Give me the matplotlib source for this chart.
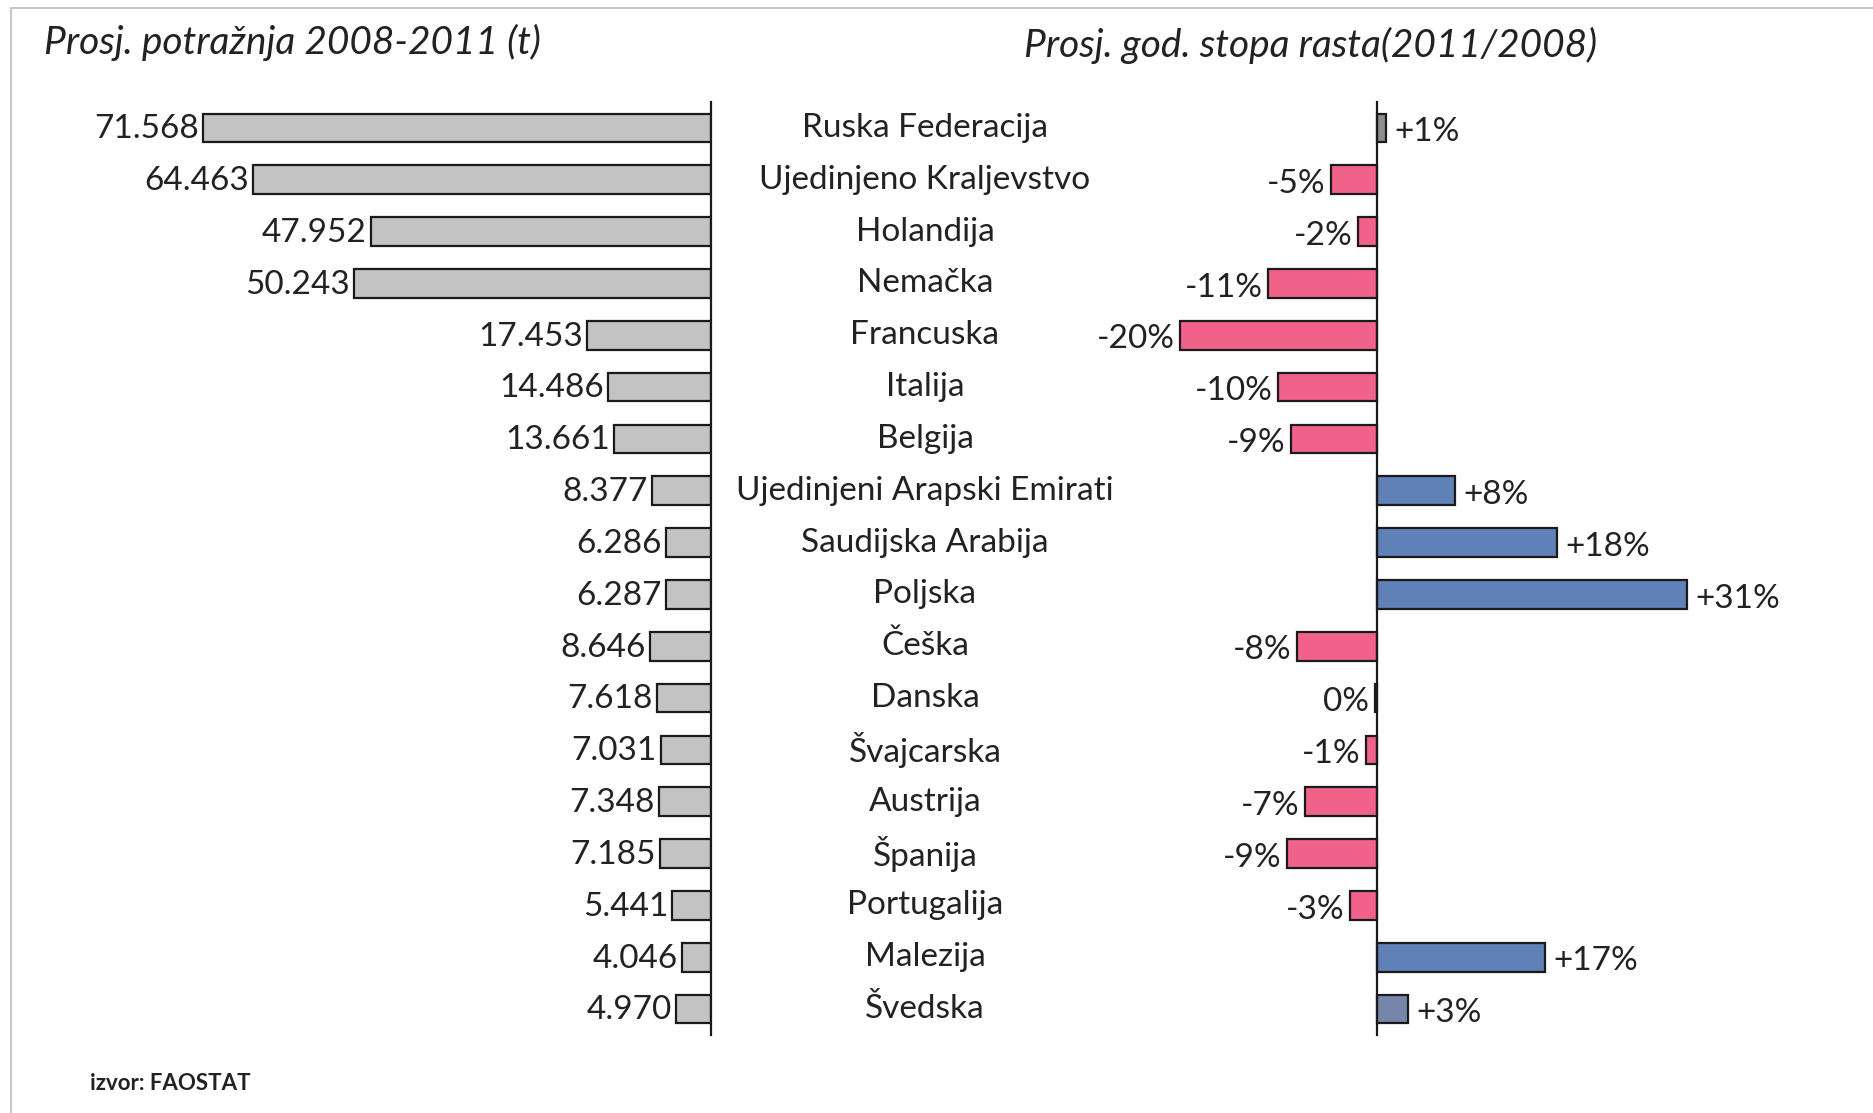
import matplotlib
matplotlib.use("Agg")
import matplotlib.pyplot as plt
import matplotlib.transforms as mtransforms
from matplotlib.lines import Line2D

countries = ["Ruska Federacija", "Ujedinjeno Kraljevstvo", "Holandija", "Nemačka",
             "Francuska", "Italija", "Belgija", "Ujedinjeni Arapski Emirati",
             "Saudijska Arabija", "Poljska", "Češka", "Danska", "Švajcarska",
             "Austrija", "Španija", "Portugalija", "Malezija", "Švedska"]
demand = [71.568, 64.463, 47.952, 50.243, 17.453, 14.486, 13.661, 8.377, 6.286,
          6.287, 8.646, 7.618, 7.031, 7.348, 7.185, 5.441, 4.046, 4.970]
demand_labels = ["71.568", "64.463", "47.952", "50.243", "17.453", "14.486", "13.661",
                 "8.377", "6.286", "6.287", "8.646", "7.618", "7.031", "7.348",
                 "7.185", "5.441", "4.046", "4.970"]
growth = [0.9, -4.6, -1.9, -10.9, -19.7, -9.9, -8.6, 7.8, 18.0, 31.0, -8.0, -0.2,
          -1.1, -7.2, -9.0, -2.7, 16.8, 3.1]
growth_labels = ["+1%", "-5%", "-2%", "-11%", "-20%", "-10%", "-9%", "+8%", "+18%",
                 "+31%", "-8%", "0%", "-1%", "-7%", "-9%", "-3%", "+17%", "+3%"]

title_left = "Prosj. potražnja 2008-2011 (t)"
title_right = "Prosj. god. stopa rasta(2011/2008)"
source = "izvor: FAOSTAT"

FONT = ["Lato", "DejaVu Sans"]
plt.rcParams['font.family'] = FONT

W, H = 1874, 1113
fig = plt.figure(figsize=(W / 100, H / 100), dpi=100)
fig.patch.set_facecolor("white")

def fx(px):
    return px / W

def fy(px):
    return 1 - px / H

top_px, bot_px = 102, 1035
n = len(countries)
ypos = list(range(n))
FS = 24

# Left axes
axL_left, axL_right = 0, 711
axL = fig.add_axes([fx(axL_left), fy(bot_px), fx(axL_right - axL_left), (bot_px - top_px) / H])
axL.barh(ypos, demand, height=0.55, color="#c3c3c3", edgecolor="#1a1a1a", linewidth=1.6)
axL.set_xlim((axL_right - axL_left) / 7.1, 0)
axL.set_ylim(n - 0.5, -0.5)
for s in ["top", "bottom", "left"]:
    axL.spines[s].set_visible(False)
axL.spines["right"].set_linewidth(1.6)
axL.spines["right"].set_color("#1a1a1a")
axL.set_xticks([])
axL.set_yticks([])
axL.patch.set_alpha(0)
for y, v, lab in zip(ypos, demand, demand_labels):
    axL.annotate(lab, (v, y), xytext=(-3, -1), textcoords="offset points",
                 ha="right", va="center", fontsize=FS, color="#222222")

# Right axes
zero_px = 1377
pxper = 10.0
axR_l, axR_r = 1100, 1760
axR = fig.add_axes([fx(axR_l), fy(bot_px), fx(axR_r - axR_l), (bot_px - top_px) / H])
colors = []
for i, g in enumerate(growth):
    if i == 0:
        colors.append("#8e8e8e")
    elif i == n - 1:
        colors.append("#7686aa")
    elif g < 0:
        colors.append("#f0628a")
    else:
        colors.append("#6080b8")
axR.barh(ypos, growth, height=0.55, color=colors, edgecolor="#1a1a1a", linewidth=1.6)
axR.set_xlim(-(zero_px - axR_l) / pxper, (axR_r - zero_px) / pxper)
axR.set_ylim(n - 0.5, -0.5)
for s in ["top", "bottom", "right"]:
    axR.spines[s].set_visible(False)
axR.spines["left"].set_position(("data", 0))
axR.spines["left"].set_linewidth(1.6)
axR.spines["left"].set_color("#1a1a1a")
axR.set_xticks([])
axR.set_yticks([])
axR.patch.set_alpha(0)
for y, v, lab in zip(ypos, growth, growth_labels):
    if lab.startswith("+"):
        axR.annotate(lab, (v, y), xytext=(6, -3), textcoords="offset points",
                     ha="left", va="center", fontsize=FS, color="#222222")
    else:
        axR.annotate(lab, (v, y), xytext=(-4, -3), textcoords="offset points",
                     ha="right", va="center", fontsize=FS, color="#222222")

# Country labels
trans = mtransforms.blended_transform_factory(fig.transFigure, axL.transData)
for y, c in zip(ypos, countries):
    fig.text(fx(925), y, c, transform=trans, ha="center", va="center",
             fontsize=FS, color="#222222")

# Titles
fig.text(fx(44), fy(42), title_left, ha="left", va="center", fontsize=28,
         style="italic", color="#222222")
fig.text(fx(1024), fy(45), title_right, ha="left", va="center", fontsize=28,
         style="italic", color="#222222")
fig.text(fx(90), fy(1084), source, ha="left", va="center", fontsize=16,
         fontweight="bold", color="#222222")

# Frame lines
fig.add_artist(Line2D([fx(11), 1], [fy(8), fy(8)], color="#c8c8c8", linewidth=1.5,
                      transform=fig.transFigure))
fig.add_artist(Line2D([fx(11), fx(11)], [fy(8), 0], color="#c8c8c8", linewidth=1.5,
                      transform=fig.transFigure))

fig.savefig("out.png", dpi=100, facecolor="white")
